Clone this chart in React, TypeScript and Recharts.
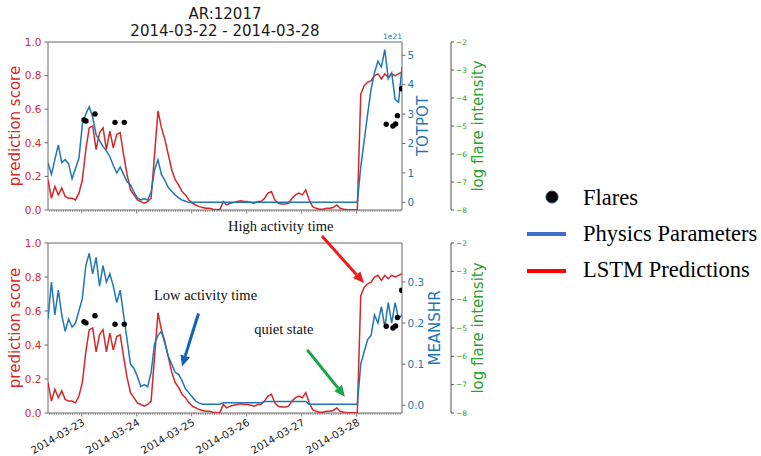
import React from 'react';
import {
  ComposedChart,
  Line,
  Scatter,
  XAxis,
  YAxis,
  ReferenceArea,
  ReferenceLine,
  ReferenceDot,
} from 'recharts';

const FONT = "'DejaVu Sans', sans-serif";
const SERIF = "'Liberation Serif', 'Times New Roman', serif";
const RED = '#d62728';
const BLUE = '#1f77b4';
const GREEN = '#2ca02c';
const SPINE = '#6a6a6a';

// time axis: day of March 2014 (fractional), 1.5 h sampling
const START_DAY = 22.3875;
const STEP_DAYS = 1.5 / 24;
const X_MIN = 22.3875;
const X_MAX = 28.825;

const DAY_TICKS = [23, 24, 25, 26, 27, 28];
const DAY_LABELS = ['2014-03-23', '2014-03-24', '2014-03-25', '2014-03-26', '2014-03-27', '2014-03-28'];
const SCORE_TICKS = [0, 0.2, 0.4, 0.6, 0.8, 1.0];
const TOTPOT_TICKS = [0, 1, 2, 3, 4, 5];
const MEANSHR_TICKS = [0, 0.1, 0.2, 0.3];
const FLARE_TICKS = [-8, -7, -6, -5, -4, -3, -2];

// LSTM prediction score (same in both panels)
const LSTM_SCORE = [
  0.18, 0.07, 0.14, 0.09, 0.13, 0.08, 0.07, 0.07, 0.06, 0.10,
  0.18, 0.36, 0.49, 0.50, 0.36, 0.46, 0.49, 0.36, 0.47, 0.37,
  0.45, 0.46, 0.33, 0.21, 0.12, 0.09, 0.06, 0.05, 0.04, 0.05,
  0.07, 0.33, 0.59, 0.49, 0.42, 0.33, 0.24, 0.18, 0.15, 0.11,
  0.09, 0.06, 0.04, 0.03, 0.02, 0.015, 0.01, 0.01, 0.005, 0.003,
  0.002, 0.05, 0.03, 0.04, 0.045, 0.05, 0.055, 0.05, 0.05, 0.045,
  0.04, 0.05, 0.05, 0.07, 0.10, 0.11, 0.06, 0.04, 0.035, 0.035,
  0.04, 0.07, 0.09, 0.10, 0.09, 0.12, 0.06, 0.02, 0.01, 0.005,
  0.005, 0.01, 0.01, 0.015, 0.03, 0.01, 0.005, 0.003, 0.002, 0.002,
  0.002, 0.69, 0.74, 0.76, 0.77, 0.80, 0.81, 0.78, 0.81, 0.79,
  0.81, 0.80, 0.81, 0.82,
];

// TOTPOT in units of 1e21
const TOTPOT = [
  1.35, 0.95, 1.45, 1.95, 1.35, 1.45, 1.3, 0.8, 1.15, 1.5,
  2.65, 3.0, 3.25, 2.9, 2.3, 2.1, 1.9, 1.75, 1.55, 1.25,
  1.0, 1.2, 0.95, 0.7, 0.6, 0.35, 0.15, 0.08, 0.12, 0.08,
  0.35, 1.1, 1.45, 0.95, 0.75, 0.5, 0.38, 0.25, 0.15, 0.08,
  0.04, 0, 0, 0, 0, 0, 0, 0, 0, 0,
  0, 0, 0, 0, 0, 0, 0, 0, 0, 0,
  0, 0, 0, 0, 0, 0, 0, 0, 0, 0,
  0, 0, 0, 0, 0, 0, 0, 0, 0, 0,
  0, 0, 0, 0, 0, 0, 0, 0, 0, 0,
  0, 1.2, 2.1, 3.0, 3.85, 4.4, 4.8, 4.6, 5.19, 4.2,
  4.4, 3.5, 3.4, 4.6,
];

const MEANSHR = [
  0.21, 0.30, 0.22, 0.28, 0.22, 0.18, 0.21, 0.19, 0.20, 0.23,
  0.26, 0.34, 0.37, 0.32, 0.36, 0.29, 0.34, 0.30, 0.32, 0.29,
  0.25, 0.28, 0.22, 0.16, 0.10, 0.09, 0.07, 0.045, 0.05, 0.045,
  0.08, 0.15, 0.17, 0.18, 0.15, 0.12, 0.10, 0.08, 0.075, 0.06,
  0.04, 0.03, 0.02, 0.01, 0.005, 0.0025, 0.0025, 0.0025, 0.0025, 0.0025,
  0.0025, 0.006, 0.006, 0.006, 0.006, 0.006, 0.006, 0.006, 0.006, 0.006,
  0.006, 0.006, 0.006, 0.009, 0.009, 0.009, 0.009, 0.009, 0.009, 0.009,
  0.009, 0.009, 0.009, 0.009, 0.009, 0.009, 0.0025, 0.0025, 0.0025, 0.0025,
  0.0025, 0.0025, 0.0025, 0.0025, 0.0025, 0.0025, 0.0025, 0.0025, 0.0025, 0.0025,
  0.0025, 0.10, 0.13, 0.16, 0.17, 0.22, 0.20, 0.24, 0.19, 0.25,
  0.20, 0.25, 0.21, 0.22,
];

const FLARE_TIMES = [23.042, 23.078, 23.242, 23.606, 23.775, 28.538, 28.66, 28.709, 28.742, 28.818];
const FLARE_LOG = [-4.78, -4.82, -4.57, -4.87, -4.87, -4.94, -5.0, -4.93, -4.63, -3.67];

// annotations (bottom panel, in data coords: day, prediction score)
const ANNOT_TEXT = ['High activity time', 'Low activity time', 'quiet state'];
const ANNOT_TEXT_AT = [[25.66, 1.071], [24.315, 0.665], [26.138, 0.465]];
const ARROW_FROM = [[27.369, 1.041], [25.124, 0.585], [27.102, 0.371]];
const ARROW_TO = [[28.133, 0.765], [24.824, 0.274], [27.788, 0.096]];
const ARROW_COLORS = ['#ee1c1c', '#1261b3', '#17a548'];

const ROWS = LSTM_SCORE.map((s, i) => ({
  t: START_DAY + i * STEP_DAYS,
  score: s,
  totpot: TOTPOT[i],
  meanshr: MEANSHR[i],
}));
const FLARES = FLARE_TIMES.map((t, i) => ({ t, flare: FLARE_LOG[i] }));

const HOUR_TICKS: number[] = [];
for (let h = Math.ceil(X_MIN * 24); h <= Math.floor(X_MAX * 24); h++) HOUR_TICKS.push(h / 24);

const makeXTick = (showLabel: boolean) => (props: any) => {
  const { x, y, payload } = props;
  const v = payload.value;
  const idx = DAY_TICKS.findIndex((d) => Math.abs(d - v) < 1e-6);
  const major = idx >= 0;
  return (
    <g>
      <line x1={x} y1={y} x2={x} y2={y + (major ? 3.5 : 2)} stroke={SPINE} strokeWidth={major ? 0.9 : 0.6} />
      {major && showLabel ? (
        <text
          x={x}
          y={y + 5}
          dy="0.72em"
          textAnchor="end"
          transform={`rotate(-30 ${x} ${y + 5})`}
          fontSize={10.3}
          fontFamily={FONT}
          fill="#222"
        >
          {DAY_LABELS[idx]}
        </text>
      ) : null}
    </g>
  );
};

const axisLabel = (text: string, color: string, cxOffset: number, offsetText?: string) => (props: any) => {
  const vb = props.viewBox || {};
  const cx = vb.x + cxOffset;
  const cy = vb.y + vb.height / 2;
  return (
    <g>
      <text
        x={cx}
        y={cy}
        transform={`rotate(-90 ${cx} ${cy})`}
        textAnchor="middle"
        dominantBaseline="central"
        fill={color}
        fontSize={15}
        fontFamily={FONT}
      >
        {text}
      </text>
      {offsetText ? (
        <text x={vb.x} y={vb.y - 3} textAnchor="end" fill={color} fontSize={7.5} fontFamily={FONT}>
          {offsetText}
        </text>
      ) : null}
    </g>
  );
};

const fmtFlare = (v: number) => (v < 0 ? '\u2212' + Math.abs(v) : String(v));

const flareDot = (p: any) => <circle cx={p.cx} cy={p.cy} r={2.7} fill="#000" />;

const arrowShape = (color: string) => (p: any) => {
  const { x1, y1, x2, y2 } = p;
  const dx = x2 - x1;
  const dy = y2 - y1;
  const len = Math.hypot(dx, dy) || 1;
  const ux = dx / len;
  const uy = dy / len;
  const hl = 11;
  const hw = 5;
  const bx = x2 - ux * hl;
  const by = y2 - uy * hl;
  return (
    <g>
      <line x1={x1} y1={y1} x2={bx} y2={by} stroke={color} strokeWidth={3} />
      <polygon
        points={`${x2},${y2} ${bx - uy * hw},${by + ux * hw} ${bx + uy * hw},${by - ux * hw}`}
        fill={color}
      />
    </g>
  );
};

const annotText = (text: string) => (p: any) => (
  <text x={p.cx} y={p.cy} fontSize={14.5} fontFamily={SERIF} fill="#111">
    {text}
  </text>
);

function Panel(props: any) {
  const {
    top, height, marginTop, xHeight, physKey, physDomain, physTicks, physFmt,
    physLabel, physLabelX, offsetText, showDates, annotate,
  } = props;
  return (
    <div style={{ position: 'absolute', left: 0, top }}>
      <ComposedChart width={496} height={height} data={ROWS} margin={{ top: marginTop, right: 0, bottom: 0, left: 0 }}>
        <XAxis
          dataKey="t"
          type="number"
          domain={[X_MIN, X_MAX]}
          allowDataOverflow
          ticks={HOUR_TICKS}
          interval={0}
          tick={makeXTick(showDates)}
          tickLine={false}
          axisLine={false}
          tickSize={0}
          tickMargin={0}
          height={xHeight}
        />
        <YAxis
          yAxisId="score"
          orientation="left"
          width={48}
          domain={[0, 1]}
          allowDataOverflow
          ticks={SCORE_TICKS}
          interval={0}
          tickFormatter={(v: number) => v.toFixed(1)}
          tick={{ fill: RED, fontSize: 10.5, fontFamily: FONT }}
          tickLine={{ stroke: SPINE }}
          tickSize={3.5}
          tickMargin={3}
          axisLine={false}
          label={axisLabel('prediction score', RED, 15)}
        />
        <YAxis
          yAxisId="bflare"
          orientation="right"
          width={45}
          domain={[-8, -2]}
          allowDataOverflow
          ticks={FLARE_TICKS}
          interval={0}
          tickFormatter={fmtFlare}
          tick={{ fill: GREEN, fontSize: 7.5, fontFamily: FONT }}
          tickLine={{ stroke: '#555' }}
          tickSize={3}
          tickMargin={2}
          axisLine={{ stroke: '#555' }}
          label={axisLabel('log flare intensity', GREEN, 27)}
        />
        <YAxis
          yAxisId="aphys"
          orientation="right"
          width={49}
          domain={physDomain}
          allowDataOverflow
          ticks={physTicks}
          interval={0}
          tickFormatter={physFmt}
          tick={{ fill: BLUE, fontSize: 10.5, fontFamily: FONT }}
          tickLine={{ stroke: SPINE }}
          tickSize={3.5}
          tickMargin={2}
          axisLine={false}
          label={axisLabel(physLabel, BLUE, physLabelX, offsetText)}
        />
        <ReferenceArea
          yAxisId="score"
          x1={X_MIN}
          x2={X_MAX}
          y1={0}
          y2={1}
          fill="none"
          fillOpacity={0}
          stroke={SPINE}
          strokeWidth={1}
          ifOverflow="visible"
        />
        <Line yAxisId="score" type="linear" dataKey="score" stroke={RED} strokeWidth={1.5} dot={false} isAnimationActive={false} />
        <Line yAxisId="aphys" type="linear" dataKey={physKey} stroke={BLUE} strokeWidth={1.5} dot={false} isAnimationActive={false} />
        <Scatter yAxisId="bflare" data={FLARES} dataKey="flare" shape={flareDot} isAnimationActive={false} />
        {annotate
          ? ARROW_FROM.map((from, i) => (
              <ReferenceLine
                key={'arrow' + i}
                yAxisId="score"
                ifOverflow="visible"
                segment={[
                  { x: from[0], y: from[1] },
                  { x: ARROW_TO[i][0], y: ARROW_TO[i][1] },
                ]}
                shape={arrowShape(ARROW_COLORS[i])}
              />
            ))
          : null}
        {annotate
          ? ANNOT_TEXT.map((txt, i) => (
              <ReferenceDot
                key={'txt' + i}
                yAxisId="score"
                x={ANNOT_TEXT_AT[i][0]}
                y={ANNOT_TEXT_AT[i][1]}
                ifOverflow="visible"
                shape={annotText(txt)}
              />
            ))
          : null}
      </ComposedChart>
    </div>
  );
}

function Legend() {
  return (
    <svg style={{ position: 'absolute', left: 500, top: 170 }} width={261} height={120}>
      <circle cx={52} cy={27} r={6} fill="#000" stroke="#1d3b6e" strokeWidth={1} />
      <line x1={27} x2={66} y1={64} y2={64} stroke="#3f6fc4" strokeWidth={4} />
      <line x1={27} x2={66} y1={101} y2={101} stroke="#ff0000" strokeWidth={4} />
      <text x={83} y={35} fontSize={22.5} fontFamily={SERIF} fill="#000">Flares</text>
      <text x={83} y={70.7} fontSize={22.5} fontFamily={SERIF} fill="#000">Physics Parameters</text>
      <text x={83} y={107.3} fontSize={22.5} fontFamily={SERIF} fill="#000">LSTM Predictions</text>
    </svg>
  );
}

export default function App() {
  return (
    <div style={{ position: 'absolute', left: 0, top: 0, width: 761, height: 456, background: '#fff', overflow: 'hidden' }}>
      <div
        style={{
          position: 'absolute',
          left: 0,
          top: 6,
          width: 450,
          textAlign: 'center',
          fontFamily: FONT,
          fontSize: 15,
          lineHeight: '17px',
          color: '#1a1a1a',
        }}
      >
        <div>AR:12017</div>
        <div>2014-03-22 - 2014-03-28</div>
      </div>
      <Panel
        top={0}
        height={215}
        marginTop={42}
        xHeight={5}
        physKey="totpot"
        physDomain={[-0.26, 5.45]}
        physTicks={TOTPOT_TICKS}
        physFmt={(v: number) => String(v)}
        physLabel="TOTPOT"
        physLabelX={21}
        offsetText="1e21"
        showDates={false}
        annotate={false}
      />
      <Panel
        top={215}
        height={241}
        marginTop={28}
        xHeight={43}
        physKey="meanshr"
        physDomain={[-0.019, 0.395]}
        physTicks={MEANSHR_TICKS}
        physFmt={(v: number) => v.toFixed(1)}
        physLabel="MEANSHR"
        physLabelX={32.5}
        showDates={true}
        annotate={true}
      />
      <Legend />
    </div>
  );
}
